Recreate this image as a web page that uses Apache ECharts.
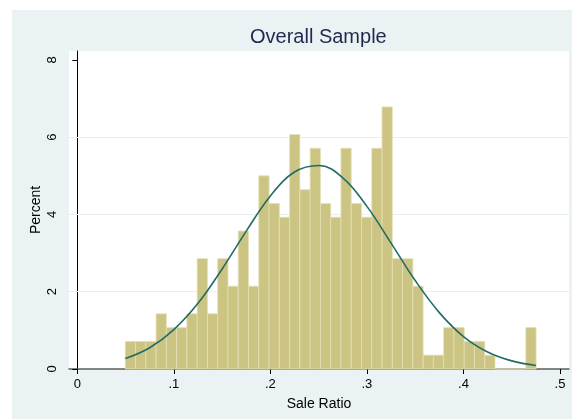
<!DOCTYPE html>
<html>
<head>
<meta charset="utf-8">
<script src="https://cdn.jsdelivr.net/npm/echarts@6/dist/echarts.min.js"></script>
<style>
html,body{margin:0;padding:0;background:#ffffff;}
#chart{width:572px;height:419px;}
</style>
</head>
<body>
<div id="chart"></div>
<script>
// Histogram: percent of observations in each bin
const binStart = 0.0497;
const binWidth = 0.010638;
const percents = [0.714,0.714,0.714,1.429,1.071,1.071,1.429,2.857,1.429,2.857,
                  2.143,3.571,2.143,5.0,4.286,3.929,6.071,4.643,5.714,4.286,
                  3.929,5.714,4.286,3.929,5.714,6.786,2.857,2.857,2.143,0.357,
                  0.357,1.071,1.071,0.714,0.714,0.357,0,0,0,1.071];
// Normal density overlay
const curveX = [0.0497,0.075,0.1,0.125,0.15,0.175,0.2,0.225,0.25,0.275,0.3,0.325,0.35,0.375,0.4,0.425,0.45,0.4752];
const curveY = [0.27,0.55,1.02,1.70,2.59,3.57,4.48,5.10,5.27,4.95,4.21,3.26,2.29,1.46,0.84,0.44,0.21,0.09];
const xTicks = [0,0.1,0.2,0.3,0.4,0.5];
const yTicks = [0,2,4,6,8];
const gridValues = [2,4,6];

const barData = percents.map((p,i)=>[binStart+i*binWidth, binStart+(i+1)*binWidth, p]);
const lineData = curveX.map((x,i)=>[x,curveY[i]]);

const chart = echarts.init(document.getElementById('chart'), null, {renderer:'canvas'});
const FONT = 'Liberation Sans, Arial, sans-serif';
chart.setOption({
  animation:false,
  backgroundColor:'transparent',
  graphic:[{type:'rect', z:-10, silent:true, shape:{x:12,y:10,width:560,height:409}, style:{fill:'#eaf2f3'}}],
  title:{text:'Overall Sample', left:250, top:27, padding:0,
    textStyle:{fontFamily:FONT, fontSize:20, fontWeight:'normal', color:'#1f2a4d'}},
  grid:{left:69, top:51, width:500, height:318, show:true, backgroundColor:'#ffffff', borderWidth:0},
  xAxis:{type:'value', min:-0.0086, max:0.5093,
    name:'Sale Ratio', nameLocation:'middle', nameGap:28, nameMoveOverlap:false,
    nameTextStyle:{fontFamily:FONT, fontSize:14, color:'#000'},
    axisLine:{show:true, onZero:false, lineStyle:{color:'#5e5e5e', width:1.5}},
    axisTick:{show:true, length:5, customValues:xTicks, lineStyle:{color:'#000'}},
    axisLabel:{customValues:xTicks, margin:9, fontFamily:FONT, fontSize:13, color:'#000',
      formatter:v=> v===0 ? '0' : String(+v.toFixed(2)).replace(/^0\./,'.')},
    splitLine:{show:false}},
  yAxis:{type:'value', min:0, max:8.233,
    name:'Percent', nameLocation:'middle', nameGap:26, nameMoveOverlap:false,
    nameTextStyle:{fontFamily:FONT, fontSize:14, color:'#000'},
    axisLine:{show:true, lineStyle:{color:'#000', width:1}},
    axisTick:{show:true, length:5, customValues:yTicks, lineStyle:{color:'#000'}},
    axisLabel:{customValues:yTicks, rotate:90, margin:10, fontFamily:FONT, fontSize:13, color:'#000'},
    splitLine:{show:false}},
  series:[
    {type:'custom', z:2, data:barData,
      renderItem:(params, api)=>{
        const p0 = api.coord([api.value(0), api.value(2)]);
        const p1 = api.coord([api.value(1), 0]);
        return {type:'rect', shape:{x:p0[0], y:p0[1], width:p1[0]-p0[0], height:p1[1]-p0[1]},
          style:{fill:'#ccc483', stroke:'#e4e0b4', lineWidth:0.8}};
      },
      encode:{x:[0,1], y:2}},
    {type:'line', z:3, data:lineData, smooth:0.4, showSymbol:false,
      lineStyle:{color:'#226b68', width:1.6},
      markLine:{silent:true, symbol:'none', label:{show:false}, z:1,
        lineStyle:{color:'#e6f0f1', width:1.2, type:'solid'},
        data:gridValues.map(v=>({yAxis:v}))}}
  ]
});
</script>
</body>
</html>
